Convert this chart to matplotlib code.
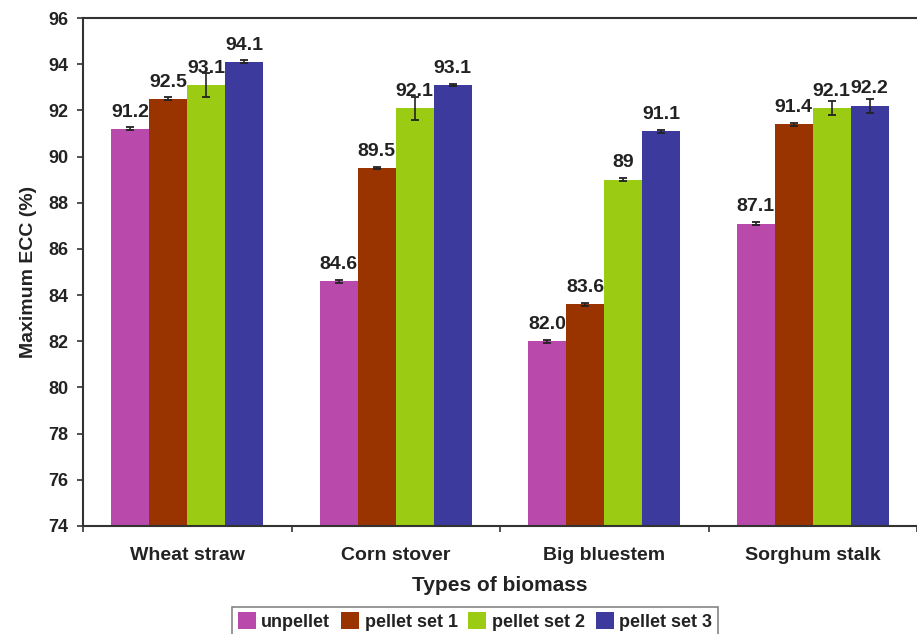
import matplotlib
matplotlib.use("Agg")
import matplotlib.pyplot as plt
import numpy as np

# Daten
biomass = ["Wheat straw", "Corn stover", "Big bluestem", "Sorghum stalk"]
series = ["unpellet", "pellet set 1", "pellet set 2", "pellet set 3"]
unpellet = [91.2, 84.6, 82.0, 87.1]
pellet1 = [92.5, 89.5, 83.6, 91.4]
pellet2 = [93.1, 92.1, 89.0, 92.1]
pellet3 = [94.1, 93.1, 91.1, 92.2]
err_unpellet = [0.07, 0.06, 0.06, 0.06]
err_pellet1 = [0.07, 0.06, 0.06, 0.06]
err_pellet2 = [0.5, 0.5, 0.06, 0.3]
err_pellet3 = [0.06, 0.06, 0.06, 0.3]
labels = [
    ["91.2", "84.6", "82.0", "87.1"],
    ["92.5", "89.5", "83.6", "91.4"],
    ["93.1", "92.1", "89", "92.1"],
    ["94.1", "93.1", "91.1", "92.2"],
]

values = [unpellet, pellet1, pellet2, pellet3]
errors = [err_unpellet, err_pellet1, err_pellet2, err_pellet3]
colors = ["#B94AAC", "#993300", "#9BCB12", "#3C3A9D"]

plt.rcParams["font.family"] = ["Liberation Sans", "DejaVu Sans"]
plt.rcParams["font.weight"] = "bold"

fig = plt.figure(figsize=(9.17, 6.34), dpi=100)
ax = fig.add_axes([83 / 917, 1 - 526 / 634, 1 - 83 / 917, (526 - 18) / 634])

x = np.arange(len(biomass))
width = 0.182
for i, (vals, errs) in enumerate(zip(values, errors)):
    pos = x + (i - 1.5) * width
    ax.bar(pos, vals, width, color=colors[i], label=series[i], zorder=2)
    ax.errorbar(pos, vals, yerr=errs, fmt="none", ecolor="#222222",
                elinewidth=1.2, capsize=3, capthick=1.3, zorder=3)
    for p, v, t in zip(pos, vals, labels[i]):
        ax.text(p, v + 0.36, t, ha="center", va="bottom",
                fontsize=14, fontweight="bold", color="#222222", zorder=4)

ax.set_ylim(74, 96)
ax.set_yticks(np.arange(74, 97, 2))
ax.set_xlim(-0.5, 3.5)
ax.set_xticks(x)
ax.set_xticklabels(biomass, fontsize=14, fontweight="bold", color="#222222")
ax.set_xticks(np.arange(-0.5, 4, 1), minor=True)
ax.tick_params(axis="x", which="major", length=0, pad=15)
ax.tick_params(axis="x", which="minor", length=4.5, width=1.2, color="#333333")
ax.tick_params(axis="y", labelsize=13, length=4.3, width=1.2, pad=6,
               color="#333333", labelcolor="#222222")
for lbl in ax.get_yticklabels():
    lbl.set_fontweight("bold")

for s in ["left", "bottom", "top"]:
    ax.spines[s].set_linewidth(1.5)
    ax.spines[s].set_color("#333333")
ax.spines["right"].set_visible(False)

ax.set_ylabel("Maximum ECC (%)", fontsize=14, fontweight="bold", labelpad=8,
              color="#222222")
ax.set_xlabel("Types of biomass", fontsize=15, fontweight="bold", labelpad=9,
              color="#222222")

leg = fig.legend(loc="upper center", bbox_to_anchor=(475 / 917, 1 - 607 / 634),
                 ncol=4, fontsize=13, frameon=True, fancybox=False,
                 handlelength=1.0, handleheight=1.0, handletextpad=0.3,
                 columnspacing=0.6, borderpad=0.3, borderaxespad=0)
leg.get_frame().set_edgecolor("#666666")
leg.get_frame().set_linewidth(1.2)
for t in leg.get_texts():
    t.set_fontweight("bold")
    t.set_color("#222222")

fig.savefig("out.png", dpi=100)
